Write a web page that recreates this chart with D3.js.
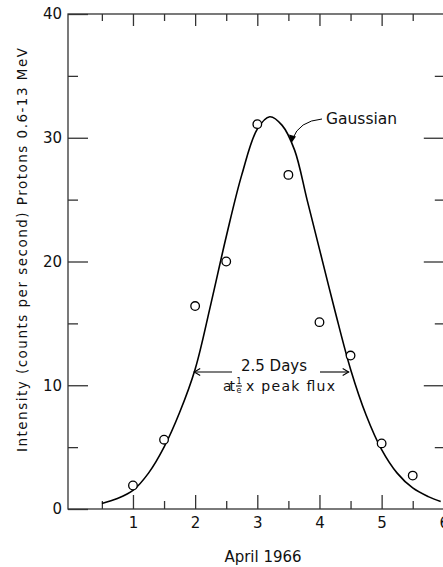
<!DOCTYPE html>
<html>
<head>
<meta charset="utf-8">
<script src="https://cdn.jsdelivr.net/npm/d3@7"></script>
<style>
    body { margin: 0; background: #fff; }
    svg text { font-family: "DejaVu Sans", sans-serif; fill: #111; }
</style>
</head>
<body>
<svg id="chart" width="443" height="567"></svg>
<script>
// observed counts, one per half day
const days = [1, 1.5, 2, 2.5, 3, 3.5, 4, 4.5, 5, 5.5];
const intensity = [1.9, 5.6, 16.4, 20.0, 31.1, 27.0, 15.1, 12.4, 5.3, 2.7];

// fitted Gaussian
const curveDays = [0.5, 0.75, 1, 1.25, 1.5, 1.75, 2, 2.25, 2.5, 2.75, 3, 3.2, 3.4, 3.6, 3.8, 4, 4.25, 4.5, 4.75, 5, 5.25, 5.5, 5.75, 5.95];
const curveIntensity = [0.45, 0.85, 1.5, 2.9, 5.0, 7.8, 11.3, 16.5, 22.0, 27.0, 30.7, 31.7, 31.0, 29.0, 25.0, 21.0, 16.0, 11.3, 7.6, 4.8, 2.9, 1.7, 1.0, 0.6];

const xMajor = [1, 2, 3, 4, 5, 6];
const xMinor = [0.5, 1.5, 2.5, 3.5, 4.5, 5.5];
const yMajor = [0, 10, 20, 30, 40];
const yMinor = [5, 15, 25, 35];

const svg = d3.select('#chart');
const plotLeft = 68, plotRight = 443.8, plotTop = 14, plotBottom = 509;

const x = d3.scaleLinear().domain([-0.045, 6]).range([plotLeft, plotRight]);
const y = d3.scaleLinear().domain([0, 40]).range([plotBottom, plotTop]);

// frame
svg.append('rect')
    .attr('x', plotLeft).attr('y', plotTop)
    .attr('width', plotRight - plotLeft).attr('height', plotBottom - plotTop)
    .attr('fill', 'none').attr('stroke', '#333').attr('stroke-width', 1.3);

function addAxis(axis, tx, ty, withLabels) {
    const g = svg.append('g')
        .attr('transform', `translate(${tx},${ty})`)
        .call(axis);
    g.select('.domain').remove();
    g.selectAll('.tick line').attr('stroke', '#333').attr('stroke-width', 1.3);
    g.selectAll('.tick text')
        .style('font-size', withLabels ? '15px' : '0px')
        .attr('fill', '#111');
    return g;
}

// left
addAxis(d3.axisLeft(y).tickValues(yMajor).tickSize(-20).tickPadding(6).tickFormat(d3.format('d')), plotLeft, 0, true);
addAxis(d3.axisLeft(y).tickValues(yMinor).tickSize(-10).tickFormat(''), plotLeft, 0, false);
// right
addAxis(d3.axisRight(y).tickValues(yMajor.slice(1, 4)).tickSize(-20).tickFormat(''), plotRight, 0, false);
addAxis(d3.axisRight(y).tickValues(yMinor).tickSize(-9).tickFormat(''), plotRight, 0, false);
// bottom
addAxis(d3.axisBottom(x).tickValues(xMajor).tickSize(-14).tickPadding(8).tickFormat(d3.format('d')), 0, plotBottom, true);
addAxis(d3.axisBottom(x).tickValues(xMinor).tickSize(-8).tickFormat(''), 0, plotBottom, false);
// top
addAxis(d3.axisTop(x).tickValues(xMajor.slice(0, 5)).tickSize(-12).tickFormat(''), 0, plotTop, false);
addAxis(d3.axisTop(x).tickValues(xMinor).tickSize(-7).tickFormat(''), 0, plotTop, false);

// axis titles
svg.append('text')
    .attr('x', 263).attr('y', 562)
    .attr('text-anchor', 'middle')
    .style('font-size', '15px')
    .text('April 1966');

svg.append('text')
    .attr('transform', 'translate(27,250) rotate(-90)')
    .attr('text-anchor', 'middle')
    .attr('textLength', 404)
    .style('font-size', '13.5px')
    .text('Intensity (counts per second) Protons 0.6-13 MeV');

// gaussian curve
const line = d3.line()
    .x((d, i) => x(curveDays[i]))
    .y(d => y(d))
    .curve(d3.curveCatmullRom.alpha(0.5));

svg.append('path')
    .datum(curveIntensity)
    .attr('d', line)
    .attr('fill', 'none')
    .attr('stroke', '#000')
    .attr('stroke-width', 1.6);

// data points
svg.append('g')
    .selectAll('circle')
    .data(days)
    .enter().append('circle')
    .attr('cx', d => x(d))
    .attr('cy', (d, i) => y(intensity[i]))
    .attr('r', 4.3)
    .attr('fill', '#fff')
    .attr('stroke', '#000')
    .attr('stroke-width', 1.3);

// "Gaussian" label with curved arrow
svg.append('text')
    .attr('x', 326).attr('y', 124)
    .style('font-size', '15.5px')
    .text('Gaussian');

svg.append('path')
    .attr('d', 'M 322,119 Q 299,121 292.5,139')
    .attr('fill', 'none').attr('stroke', '#000').attr('stroke-width', 1);
svg.append('path')
    .attr('d', 'M 291.5,143 L 289,134.5 L 296,136.5 Z')
    .attr('fill', '#000');

// width annotation
const arrowY = 372;
const xl = x(1.985), xr = x(4.47);
svg.append('line')
    .attr('x1', xl).attr('x2', 232).attr('y1', arrowY).attr('y2', arrowY)
    .attr('stroke', '#000').attr('stroke-width', 1.1);
svg.append('line')
    .attr('x1', 320).attr('x2', xr).attr('y1', arrowY).attr('y2', arrowY)
    .attr('stroke', '#000').attr('stroke-width', 1.1);
svg.append('path')
    .attr('d', `M ${xl + 6},${arrowY - 3.5} L ${xl},${arrowY} L ${xl + 6},${arrowY + 3.5} M ${xr - 6},${arrowY - 3.5} L ${xr},${arrowY} L ${xr - 6},${arrowY + 3.5}`)
    .attr('fill', 'none').attr('stroke', '#000').attr('stroke-width', 1.1);

svg.append('text')
    .attr('x', 274).attr('y', 371)
    .attr('text-anchor', 'middle')
    .style('font-size', '15px')
    .text('2.5 Days');

svg.append('text')
    .attr('x', 223).attr('y', 391)
    .attr('textLength', 12)
    .style('font-size', '14px')
    .text('at');
svg.append('text')
    .attr('x', 239).attr('y', 384)
    .attr('text-anchor', 'middle')
    .style('font-size', '8px')
    .text('1');
svg.append('line')
    .attr('x1', 236).attr('x2', 242).attr('y1', 386).attr('y2', 386)
    .attr('stroke', '#000').attr('stroke-width', 1);
svg.append('text')
    .attr('x', 239).attr('y', 393)
    .attr('text-anchor', 'middle')
    .style('font-size', '8px')
    .text('e');
svg.append('text')
    .attr('x', 246).attr('y', 391)
    .attr('textLength', 89)
    .style('font-size', '14px')
    .text('x peak flux');
</script>
</body>
</html>
